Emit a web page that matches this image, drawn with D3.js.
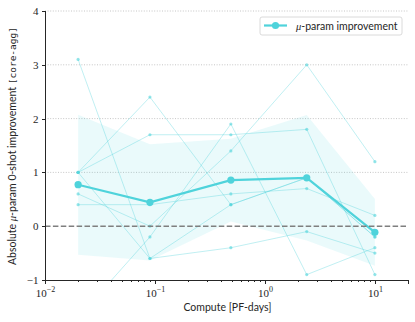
<!DOCTYPE html>
<html>
<head>
<meta charset="utf-8">
<title>mup-improvement</title>
<script src="https://cdn.jsdelivr.net/npm/d3@7"></script>
<style>
  body { margin: 0; background: #fff; }
  .axis path, .axis line { stroke: #262626; shape-rendering: crispEdges; }
  .axis text { font-family: "Liberation Serif", serif; font-size: 11px; fill: #262626; }
  .lbl { font-family: "Lato", "DejaVu Sans", sans-serif; font-size: 10.5px; fill: #262626; }
</style>
</head>
<body>
<script>
// compute budgets (PF-days)
var compute = [0.02, 0.09, 0.49, 2.4, 10];
// per-task improvement
var task1 = [3.1, -0.6, 0.4, 0.9, -0.2];
var task2 = [1.0, 2.4, 0.4, 0.9, -0.2];
var task3 = [1.0, 1.7, 1.7, 1.8, -0.9];
var task4 = [1.0, -0.6, -0.4, -0.1, -0.5];
var task5 = [0.6, 0.0, 1.4, 3.0, 1.2];
var task6 = [0.4, 0.4, 0.6, 0.7, 0.2];
var task7 = [-1.7, -0.2, 1.9, -0.9, -0.4];
var yTicks = [-1, 0, 1, 2, 3, 4];
var xTicks = [0.01, 0.1, 1, 10];

var tasks = [task1, task2, task3, task4, task5, task6, task7];
var color = "#4fd3db";

// mean and population std across tasks
var mean = compute.map(function (c, i) { return d3.mean(tasks, function (t) { return t[i]; }); });
var sd = compute.map(function (c, i) {
    return Math.sqrt(d3.mean(tasks, function (t) { return Math.pow(t[i] - mean[i], 2); }));
});

var W = 415, H = 322;
var margin = { left: 45, right: 7, top: 11, bottom: 42 };

var x = d3.scaleLog().domain([0.01, 20]).range([margin.left, W - margin.right]);
var y = d3.scaleLinear().domain([-1, 4]).range([H - margin.bottom, margin.top]);

var svg = d3.select("body").append("svg").attr("width", W).attr("height", H);

svg.append("clipPath").attr("id", "clip").append("rect")
    .attr("x", margin.left).attr("y", margin.top)
    .attr("width", W - margin.left - margin.right)
    .attr("height", H - margin.top - margin.bottom);

// grid
svg.append("g").selectAll("line").data(yTicks.filter(function (d) { return d > 0; })).enter()
    .append("line")
    .attr("x1", margin.left).attr("x2", W - margin.right)
    .attr("y1", function (d) { return y(d); }).attr("y2", function (d) { return y(d); })
    .attr("stroke", "#b8b8b8").attr("stroke-width", 0.8).attr("stroke-dasharray", "1,1.6");

var plot = svg.append("g").attr("clip-path", "url(#clip)");

// std band
var area = d3.area()
    .x(function (d, i) { return x(compute[i]); })
    .y0(function (d, i) { return y(mean[i] - sd[i]); })
    .y1(function (d, i) { return y(mean[i] + sd[i]); });
plot.append("path").datum(mean).attr("d", area)
    .attr("fill", color).attr("fill-opacity", 0.12);

// individual tasks
var line = d3.line().x(function (d, i) { return x(compute[i]); }).y(function (d) { return y(d); });
var tg = plot.selectAll(".task").data(tasks).enter().append("g").attr("class", "task");
tg.append("path").attr("d", line).attr("fill", "none")
    .attr("stroke", color).attr("stroke-opacity", 0.45).attr("stroke-width", 0.8);
tg.selectAll("circle").data(function (d) { return d; }).enter().append("circle")
    .attr("cx", function (d, i) { return x(compute[i]); })
    .attr("cy", function (d) { return y(d); })
    .attr("r", 1.6).attr("fill", color).attr("fill-opacity", 0.6);

// zero line
svg.append("line")
    .attr("x1", margin.left).attr("x2", W - margin.right)
    .attr("y1", y(0)).attr("y2", y(0))
    .attr("stroke", "#7f7f7f").attr("stroke-width", 1.5).attr("stroke-dasharray", "5.5,2.4");

// mean line
plot.append("path").datum(mean).attr("d", line).attr("fill", "none")
    .attr("stroke", color).attr("stroke-width", 2.2);
plot.selectAll(".mdot").data(mean).enter().append("circle")
    .attr("cx", function (d, i) { return x(compute[i]); })
    .attr("cy", function (d) { return y(d); })
    .attr("r", 3.6).attr("fill", color);

// axes
var yAxis = d3.axisLeft(y).tickValues(yTicks).tickSize(3.5).tickPadding(3)
    .tickFormat(function (d) { return d < 0 ? "\u2212" + Math.abs(d) : d; });
svg.append("g").attr("class", "axis").attr("transform", "translate(" + margin.left + ",0)").call(yAxis);

var minor = [];
[0.01, 0.1, 1, 10].forEach(function (b) { for (var k = 2; k <= 9; k++) if (b * k <= 20) minor.push(b * k); });
svg.append("g").attr("class", "axis").attr("transform", "translate(0," + y(-1) + ")")
    .call(d3.axisBottom(x).tickValues(minor).tickSize(2).tickFormat(""))
    .select(".domain").remove();
var xg = svg.append("g").attr("class", "axis").attr("transform", "translate(0," + y(-1) + ")")
    .call(d3.axisBottom(x).tickValues(xTicks).tickSize(3.5).tickPadding(4).tickFormat(""));
xg.selectAll(".tick").append("text").attr("y", 17).attr("text-anchor", "middle")
    .each(function (d) {
        var e = Math.round(Math.log10(d));
        var t = d3.select(this);
        t.append("tspan").text("10");
        t.append("tspan").attr("dy", -5).attr("font-size", "8px")
            .text(e < 0 ? "\u2212" + Math.abs(e) : e);
    });
svg.selectAll(".axis .domain").attr("stroke-width", 1.1);

// labels
svg.append("text").attr("class", "lbl").attr("x", (margin.left + W - margin.right) / 2 + 1).attr("y", 311)
    .attr("text-anchor", "middle").text("Compute [PF-days]");

var yl = svg.append("text").attr("class", "lbl").attr("text-anchor", "middle")
    .attr("transform", "translate(16," + 146 + ") rotate(-90)");
yl.append("tspan").text("Absolute ");
yl.append("tspan").attr("font-family", "Liberation Serif, serif").attr("font-style", "italic").text("\u03bc");
yl.append("tspan").text("-param 0-shot improvement ");
yl.append("tspan").attr("font-family", "DejaVu Sans Mono, monospace").attr("font-size", "9.5px").text("[core-agg]");

// legend
var lg = svg.append("g").attr("transform", "translate(260,17)");
lg.append("rect").attr("width", 142).attr("height", 18).attr("rx", 2)
    .attr("fill", "#fff").attr("fill-opacity", 0.8).attr("stroke", "#d0d0d0").attr("stroke-width", 0.8);
lg.append("line").attr("x1", 4).attr("x2", 27).attr("y1", 8.5).attr("y2", 8.5)
    .attr("stroke", color).attr("stroke-width", 2.2);
lg.append("circle").attr("cx", 15.5).attr("cy", 8.5).attr("r", 3.6).attr("fill", color);
var lt = lg.append("text").attr("class", "lbl").attr("x", 36).attr("y", 12.5).attr("font-size", "10px");
lt.append("tspan").attr("font-family", "Liberation Serif, serif").attr("font-style", "italic").text("\u03bc");
lt.append("tspan").text("-param improvement");
</script>
</body>
</html>
